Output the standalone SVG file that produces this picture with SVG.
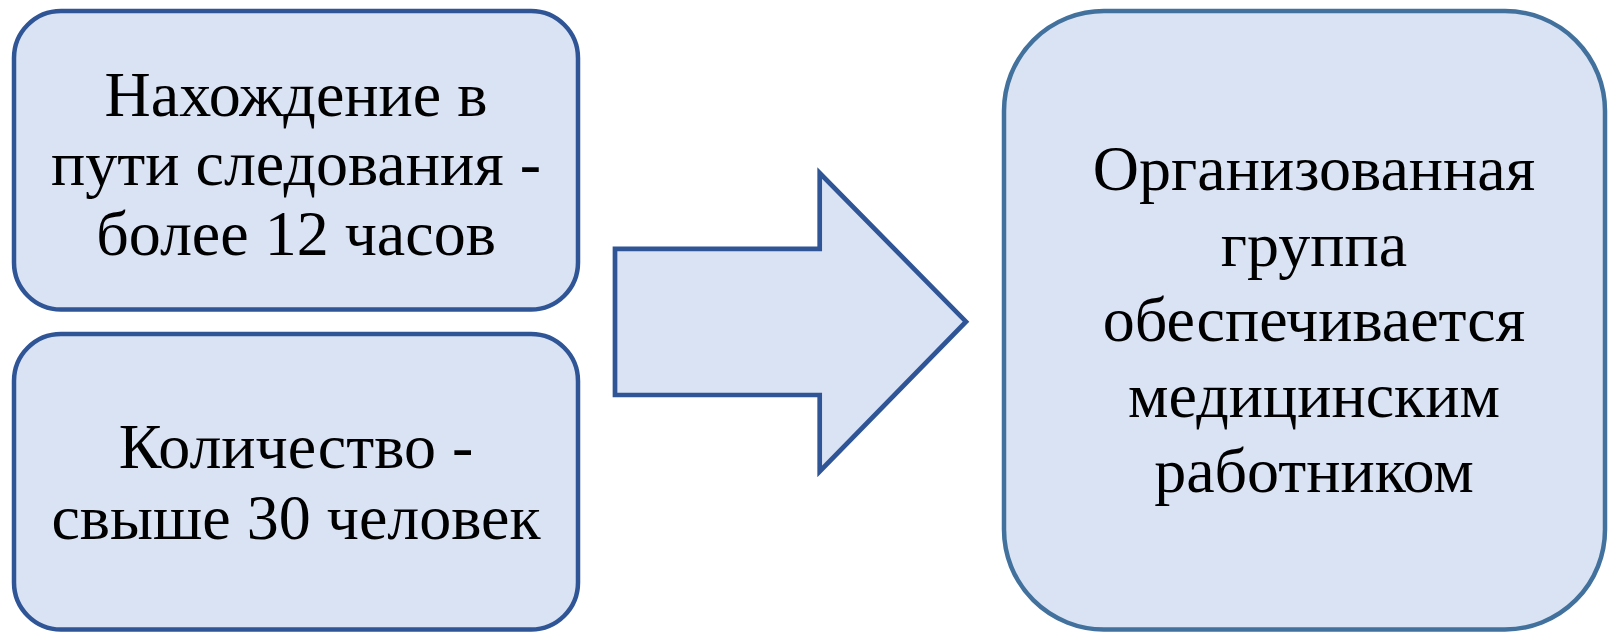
<svg xmlns="http://www.w3.org/2000/svg" width="1609" height="632" viewBox="0 0 1609 632">
  <style>
    .box { fill: #DAE3F3; stroke: #2F5597; stroke-width: 4.5; }
    .box2 { fill: #DAE3F3; stroke: #41719C; stroke-width: 4.5; }
    .arrow { fill: #DAE3F3; stroke: #2F5597; stroke-width: 4.7; stroke-linejoin: miter; }
    .t { font-family: "Liberation Serif", "Noto Serif", "DejaVu Serif", "Nimbus Roman", "Nimbus Roman No9 L", FreeSerif, "Times New Roman", Times, Georgia, serif; font-size: 64px; fill: #000; text-anchor: middle; }
  </style>
  <rect width="1609" height="632" fill="#FFFFFF"/>
  <g id="node-travel">
    <rect class="box" x="14" y="11" width="564" height="298.5" rx="47" ry="47"/>
    <text class="t" x="296" y="115.7">Нахождение в</text>
    <text class="t" x="296" y="185">пути следования -</text>
    <text class="t" x="296" y="254.5">более 12 часов</text>
  </g>
  <g id="node-count">
    <rect class="box" x="14" y="334" width="564" height="295.5" rx="47" ry="47"/>
    <text class="t" x="296" y="468.3">Количество -</text>
    <text class="t" x="296" y="539.3">свыше 30 человек</text>
  </g>
  <g id="connectors">
    <polygon id="arrow" class="arrow" points="615,248.8 819.7,248.8 819.7,173 966,321.7 819.7,471.5 819.7,395 615,395"/>
  </g>
  <g id="node-result">
    <rect class="box2" x="1004" y="11" width="601" height="618.5" rx="100" ry="100"/>
    <text class="t" x="1314" y="190">Организованная</text>
    <text class="t" x="1314" y="265.5">группа</text>
    <text class="t" x="1314" y="341">обеспечивается</text>
    <text class="t" x="1314" y="416.5">медицинским</text>
    <text class="t" x="1314" y="492">работником</text>
  </g>
</svg>
